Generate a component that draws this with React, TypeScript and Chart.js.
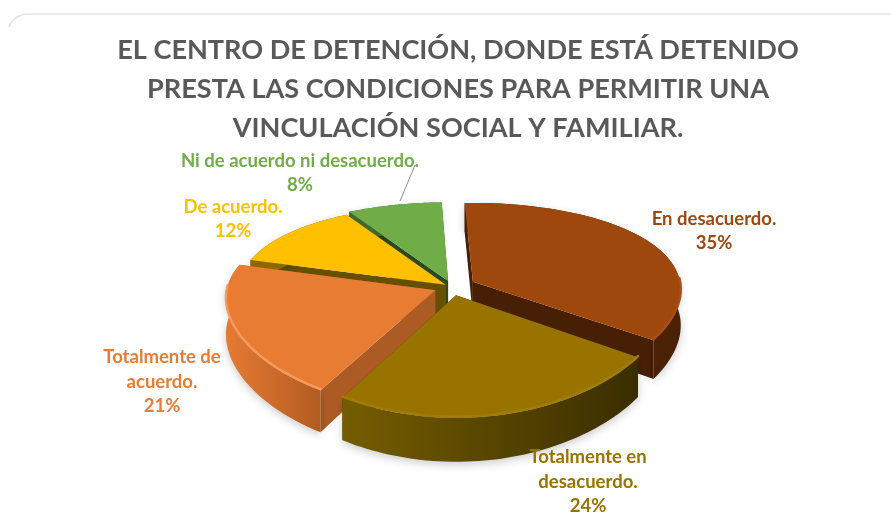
import React, { useEffect, useRef } from "react";
import { Chart, registerables } from "chart.js";

Chart.register(...registerables);

const titleLines = [
  "EL CENTRO DE DETENCIÓN, DONDE ESTÁ DETENIDO",
  "PRESTA LAS CONDICIONES PARA PERMITIR UNA",
  "VINCULACIÓN SOCIAL Y FAMILIAR.",
];
const categories = [
  "En desacuerdo.",
  "Totalmente en desacuerdo.",
  "Totalmente de acuerdo.",
  "De acuerdo.",
  "Ni de acuerdo ni desacuerdo.",
];
const values = [35, 24, 21, 12, 8];
const labelLines = [
  ["En desacuerdo."],
  ["Totalmente en", "desacuerdo."],
  ["Totalmente de", "acuerdo."],
  ["De acuerdo."],
  ["Ni de acuerdo ni desacuerdo."],
];
const colors = ["#9E480E", "#997300", "#E97C33", "#FFC000", "#70AD47"];
const rimColors = ["#A5501A", "#A27C08", "#F59B60", "#FFC000", "#70AD47"];
const radialWallColors = ["#471F04", "#473800", "#AD5B25", "#665000", "#2A4A1B"];
const outerWallStops = [
  ["#4A2104", "#4A2104"],
  ["#755D00", "#3A2E00"],
  ["#E67A33", "#B25C22"],
  ["#8A6A00", "#8A6A00"],
  ["#3E6A25", "#3E6A25"],
];
const sliceOffsets = [24, 18, 18, 8, 14];

const PERSPECTIVE_Y = 0.19;
const PERSPECTIVE_X = 0.08;
const FLATTEN = 0.46;
const DEPTH = 35;
const SHIFT_X = -6;
const paintOrder = [4, 3, 0, 2, 1];
const labelCenters = [
  [714, 231],
  [588, 482],
  [162, 382],
  [233, 219],
  [300, 173],
];

const pie3d = {
  id: "pie3d",
  beforeDraw(chart: any) {
    const { ctx } = chart;
    ctx.save();
    ctx.strokeStyle = "#E4E4E4";
    ctx.lineWidth = 1.5;
    ctx.beginPath();
    ctx.moveTo(9, 27);
    ctx.quadraticCurveTo(14, 14, 30, 14);
    ctx.lineTo(891, 14);
    ctx.stroke();
    ctx.restore();
  },
  beforeDatasetDraw(chart: any, args: any) {
    const { ctx } = chart;
    const meta = args.meta;
    const R = meta.data[0].outerRadius;
    const cx = meta.data[0].x + SHIFT_X;
    const cy = meta.data[0].y;

    const project = (u: number, v: number, drop: number) => {
      const sy = 1 / (1 + PERSPECTIVE_Y * (v / R));
      const sx = 1 / (1 + PERSPECTIVE_X * (v / R));
      return { x: cx + u * sx, y: cy - v * FLATTEN * sy + drop * sy };
    };

    for (const i of paintOrder) {
      const arc = meta.data[i];
      const a0 = arc.startAngle;
      const a1 = arc.endAngle;
      const mid = (a0 + a1) / 2;
      const off = arc.options.offset || 0;
      const ax = Math.cos(mid) * off;
      const ay = -Math.sin(mid) * off;
      const apexTop = project(ax, ay, 0);
      const apexLow = project(ax, ay, DEPTH);
      const top: any[] = [];
      const low: any[] = [];
      const front: boolean[] = [];
      const steps = 60;
      for (let k = 0; k <= steps; k++) {
        const a = a0 + ((a1 - a0) * k) / steps;
        const u = ax + Math.cos(a) * R;
        const v = ay - Math.sin(a) * R;
        top.push(project(u, v, 0));
        low.push(project(u, v, DEPTH));
        front.push(Math.sin(a) > -0.05);
      }
      const poly = (pts: any[], fill: any) => {
        ctx.beginPath();
        pts.forEach((p, n) => (n ? ctx.lineTo(p.x, p.y) : ctx.moveTo(p.x, p.y)));
        ctx.closePath();
        ctx.fillStyle = fill;
        ctx.fill();
      };

      // radial walls
      poly([apexTop, top[0], low[0], apexLow], radialWallColors[i]);
      poly([apexTop, top[steps], low[steps], apexLow], radialWallColors[i]);

      // soft cast shadow + outer wall
      ctx.save();
      ctx.shadowColor = "rgba(0,0,0,0.2)";
      ctx.shadowBlur = 8;
      ctx.shadowOffsetY = 3;
      const xs = top.map((p) => p.x);
      const grad = ctx.createLinearGradient(Math.min(...xs), 0, Math.max(...xs), 0);
      grad.addColorStop(0, outerWallStops[i][0]);
      grad.addColorStop(1, outerWallStops[i][1]);
      poly([...top, ...low.slice().reverse()], grad);
      ctx.restore();

      // top face
      poly([apexTop, ...top], colors[i]);

      // bevel on the front rim
      ctx.save();
      ctx.strokeStyle = rimColors[i];
      ctx.lineWidth = 2.5;
      ctx.lineCap = "round";
      ctx.beginPath();
      let pen = false;
      top.forEach((p, n) => {
        if (!front[n]) {
          pen = false;
          return;
        }
        if (pen) ctx.lineTo(p.x, p.y - 1);
        else ctx.moveTo(p.x, p.y - 1);
        pen = true;
      });
      ctx.stroke();
      ctx.restore();
    }
    return false;
  },
  afterDatasetsDraw(chart: any) {
    const { ctx } = chart;
    ctx.save();
    ctx.strokeStyle = "#8C8C8C";
    ctx.lineWidth = 1;
    ctx.beginPath();
    ctx.moveTo(415, 165);
    ctx.lineTo(400, 201);
    ctx.stroke();
    ctx.font = 'bold 18.5px Lato, "Noto Sans", sans-serif';
    ctx.textAlign = "center";
    ctx.textBaseline = "middle";
    categories.forEach((_, i) => {
      const lines = [...labelLines[i], `${values[i]}%`];
      const lh = 24.5;
      const [x, y] = labelCenters[i];
      ctx.fillStyle = colors[i];
      lines.forEach((t, n) => {
        ctx.fillText(t, x, y + (n - (lines.length - 1) / 2) * lh);
      });
    });
    ctx.restore();
  },
};

export default function App() {
  const ref = useRef<HTMLCanvasElement>(null);
  useEffect(() => {
    document.body.style.margin = "0";
    document.body.style.background = "#fff";
    const chart = new Chart(ref.current as HTMLCanvasElement, {
      type: "pie",
      data: {
        labels: categories,
        datasets: [
          {
            data: values,
            backgroundColor: colors,
            borderWidth: 0,
            offset: sliceOffsets,
          },
        ],
      },
      options: {
        responsive: false,
        animation: false,
        radius: 208,
        rotation: -2,
        layout: { padding: { top: 0, left: 25, right: 0, bottom: 97 } },
        plugins: {
          legend: { display: false },
          tooltip: { enabled: false },
          title: {
            display: true,
            text: titleLines,
            color: "#595959",
            font: { family: 'Lato, "Noto Sans", sans-serif', size: 27.1, weight: "bold", lineHeight: 1.44 },
            padding: { top: 31, bottom: 9 },
          },
        },
      },
      plugins: [pie3d],
    } as any);
    return () => chart.destroy();
  }, []);
  return (
    <div style={{ width: 891, height: 514 }}>
      <canvas ref={ref} width={891} height={514} style={{ display: "block" }} />
    </div>
  );
}
